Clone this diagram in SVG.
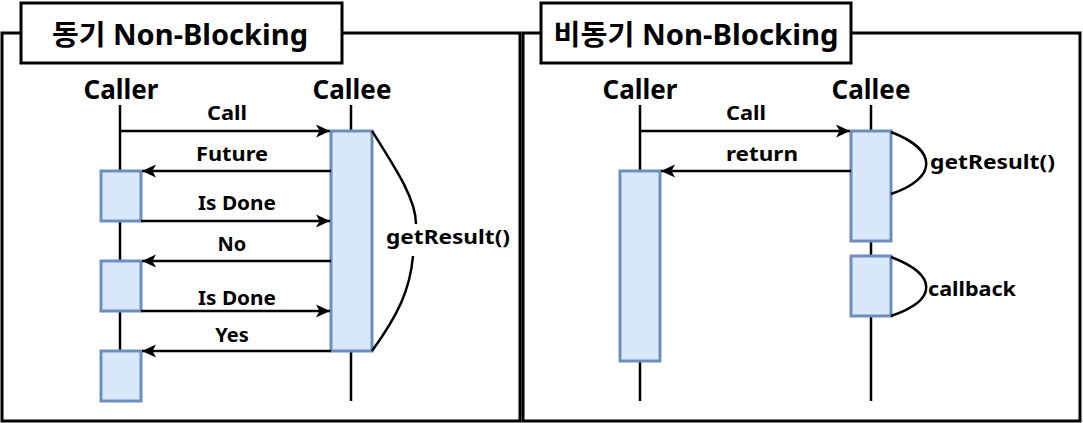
<svg xmlns="http://www.w3.org/2000/svg" width="1083" height="423" viewBox="0 0 1083 423">
<style>
.frame{fill:none;stroke:#000;stroke-width:3}
.title{fill:#fff;stroke:#000;stroke-width:3}
.tt{font-family:"Noto Sans","Noto Sans CJK KR",sans-serif;font-weight:700;font-size:28px;fill:#000;text-anchor:middle}
.hd{font-family:"Noto Sans",sans-serif;font-weight:700;font-size:26px;fill:#000;text-anchor:middle}
.lb{font-family:"Noto Sans",sans-serif;font-weight:700;font-size:20px;fill:#000;text-anchor:middle}
.ll{font-family:"Noto Sans",sans-serif;font-weight:700;font-size:20px;fill:#000;text-anchor:start}
.life{stroke:#000;stroke-width:2.5;fill:none}
.act{fill:#dae8fc;stroke:#6c8ebf;stroke-width:3}
.msg{stroke:#000;stroke-width:2.5;fill:none;marker-end:url(#ah)}
.loop{stroke:#000;stroke-width:2.5;fill:none}
</style>
<defs>
<marker id="ah" markerUnits="userSpaceOnUse" markerWidth="16" markerHeight="16" viewBox="0 0 16 16" refX="15" refY="8" orient="auto">
<path d="M1,1.5 L15,8 L1,14.5 L4.5,8 z" fill="#000"/>
</marker>
</defs>
<rect x="0" y="0" width="1083" height="423" fill="#fff"/>

<g id="panel-sync">
<rect class="frame" x="2" y="33" width="518" height="388"/>
<rect class="title" x="21" y="3" width="321" height="60"/>
<text class="tt" x="180" y="45" textLength="256" lengthAdjust="spacingAndGlyphs">동기 Non-Blocking</text>
</g>
<g id="panel-async">
<rect class="frame" x="523" y="33" width="557" height="388"/>
<rect class="title" x="541" y="3" width="310" height="60"/>
<text class="tt" x="696" y="45" textLength="285" lengthAdjust="spacingAndGlyphs">비동기 Non-Blocking</text>
</g>

<g id="lifelines">
<g id="caller1"><text class="hd" x="121" y="99">Caller</text><line class="life" x1="120" y1="105" x2="120" y2="351"/></g>
<g id="callee1"><text class="hd" x="352" y="99">Callee</text><line class="life" x1="351" y1="105" x2="351" y2="401"/></g>
<g id="caller2"><text class="hd" x="640" y="99">Caller</text><line class="life" x1="640" y1="105" x2="640" y2="401"/></g>
<g id="callee2"><text class="hd" x="871" y="99">Callee</text><line class="life" x1="871" y1="105" x2="871" y2="401"/></g>
</g>

<g id="activations">
<rect id="act-callee1" class="act" x="331" y="131" width="41" height="220"/>
<rect id="act-caller1a" class="act" x="101" y="171" width="40" height="50"/>
<rect id="act-caller1b" class="act" x="101" y="261" width="40" height="50"/>
<rect id="act-caller1c" class="act" x="101" y="351" width="40" height="50"/>
<rect id="act-callee2a" class="act" x="851" y="131" width="40" height="110"/>
<rect id="act-callee2b" class="act" x="851" y="256" width="40" height="60"/>
<rect id="act-caller2" class="act" x="620" y="171" width="40" height="190"/>
</g>

<g id="connectors">
<line class="msg" x1="120" y1="131" x2="330" y2="131"/>
<line class="msg" x1="331" y1="171" x2="142" y2="171"/>
<line class="msg" x1="141" y1="221" x2="330" y2="221"/>
<line class="msg" x1="331" y1="261" x2="142" y2="261"/>
<line class="msg" x1="141" y1="311" x2="330" y2="311"/>
<line class="msg" x1="331" y1="351" x2="142" y2="351"/>
<path class="loop" d="M372,131 C398,172 416,200 416,224"/>
<path class="loop" d="M413,256 C410,290 398,315 372,351"/>
<line class="msg" x1="640" y1="131" x2="850" y2="131"/>
<line class="msg" x1="851" y1="171" x2="661" y2="171"/>
<path class="loop" d="M891,132 C938,150 938,178 891,194"/>
<path class="loop" d="M891,257 C938,275 938,300 891,316"/>
</g>

<g id="labels">
<text class="lb" x="227" y="120" textLength="40" lengthAdjust="spacingAndGlyphs">Call</text>
<text class="lb" x="232" y="161" textLength="72" lengthAdjust="spacingAndGlyphs">Future</text>
<text class="lb" x="237" y="210" textLength="78" lengthAdjust="spacingAndGlyphs">Is Done</text>
<text class="lb" x="232" y="251">No</text>
<text class="lb" x="237" y="305" textLength="78" lengthAdjust="spacingAndGlyphs">Is Done</text>
<text class="lb" x="232" y="342">Yes</text>
<text class="ll" x="386" y="244" textLength="124" lengthAdjust="spacingAndGlyphs">getResult()</text>
<text class="lb" x="746" y="120" textLength="40" lengthAdjust="spacingAndGlyphs">Call</text>
<text class="lb" x="762" y="161" textLength="72" lengthAdjust="spacingAndGlyphs">return</text>
<text class="ll" x="930" y="169" textLength="125" lengthAdjust="spacingAndGlyphs">getResult()</text>
<text class="ll" x="928" y="296" textLength="88" lengthAdjust="spacingAndGlyphs">callback</text>
</g>
</svg>
